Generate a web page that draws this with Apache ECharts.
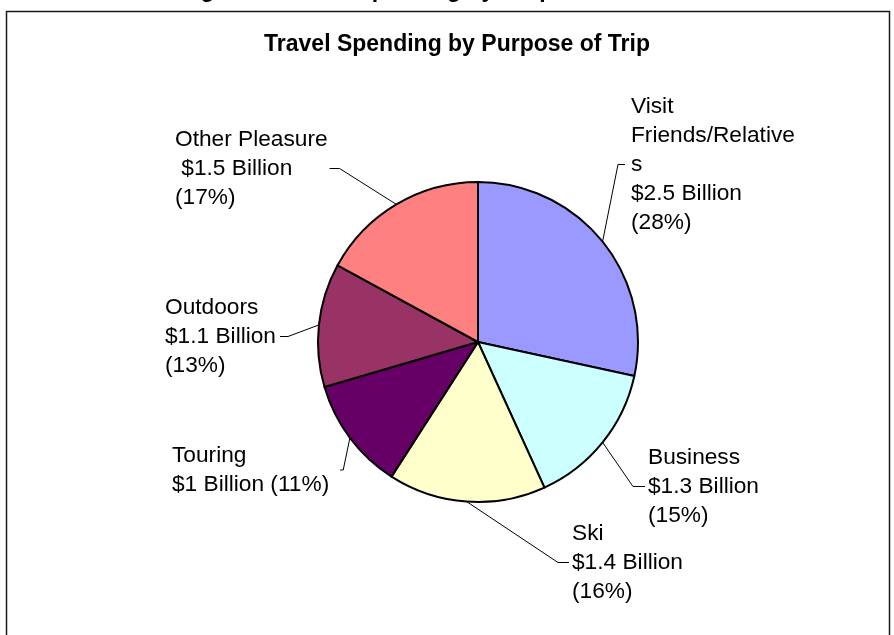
<!DOCTYPE html>
<html>
<head>
<meta charset="utf-8">
<script src="https://cdn.jsdelivr.net/npm/echarts@6/dist/echarts.min.js"></script>
<style>
  html, body { margin: 0; padding: 0; background: #fff; }
  #chart { width: 894px; height: 635px; }
</style>
</head>
<body>
<div id="chart"></div>
<script>
// Travel spending by purpose of trip, in $ billions
const categories = ['Visit Friends/Relatives', 'Business', 'Ski', 'Touring', 'Outdoors', 'Other Pleasure'];
const spending = [2.5, 1.3, 1.4, 1.0, 1.1, 1.5];
const sliceColors = ['#9999FF', '#CCFFFF', '#FFFFCC', '#660066', '#993366', '#FF8080'];

// How each category name wraps inside its label box
const nameLines = [['Visit', 'Friends/Relative', 's'], ['Business'], ['Ski'], ['Touring'], ['Outdoors'], ['Other Pleasure']];
// How the amount and share lines are set under the name
const amountStyle = ['stack', 'stack', 'stack', 'inline', 'stack', 'indent'];

// Label box placement (top-left corner), which side the leader meets,
// gap between box and leader end, and length of the leader's flat tail
const labelBoxes = [
  { x: 631, y: 92,  side: 'left',  gap: 6,  tail: 7 },
  { x: 648, y: 443, side: 'left',  gap: 3,  tail: 12 },
  { x: 572, y: 519, side: 'left',  gap: 3,  tail: 11 },
  { x: 172, y: 441, side: 'right', gap: 11, tail: 3 },
  { x: 165, y: 293, side: 'right', gap: 4,  tail: 8 },
  { x: 175, y: 125, side: 'right', gap: 2,  tail: 10 }
];

const total = spending.reduce((a, b) => a + b, 0);
const FONT = '"Liberation Sans", Arial, Helvetica, sans-serif';

function labelText(i) {
  const v = spending[i];
  const pct = Math.round(v / total * 100 + 1e-9);
  const amount = '$' + v + ' Billion';
  const share = '(' + pct + '%)';
  const lines = nameLines[i].slice();
  if (amountStyle[i] === 'inline') lines.push(amount + ' ' + share);
  else if (amountStyle[i] === 'indent') lines.push(' ' + amount, share);
  else lines.push(amount, share);
  return lines.join('\n');
}

const chart = echarts.init(document.getElementById('chart'), null, { renderer: 'canvas' });

chart.setOption({
  backgroundColor: '#ffffff',
  animation: false,
  graphic: [
    {
      type: 'rect',
      shape: { x: 6.5, y: 11.5, width: 883, height: 640 },
      style: { fill: 'none', stroke: '#1a1a1a', lineWidth: 1.5 },
      silent: true
    },
    {
      // page caption above the chart frame, mostly cut off by the top edge
      type: 'text',
      x: 180, y: -9,
      style: {
        text: 'Figure 1: Travel Spending by Purpose',
        font: 'bold 23px ' + FONT,
        fill: '#000',
        align: 'left',
        verticalAlign: 'middle'
      },
      silent: true
    },
    {
      type: 'text',
      x: 457, y: 45,
      style: {
        text: 'Travel Spending by Purpose of Trip',
        font: 'bold 23px ' + FONT,
        fill: '#000',
        align: 'center',
        verticalAlign: 'middle'
      },
      silent: true
    }
  ],
  series: [{
    type: 'pie',
    center: [478, 342],
    radius: 160,
    startAngle: 90,
    clockwise: true,
    avoidLabelOverlap: false,
    itemStyle: { borderColor: '#000', borderWidth: 2 },
    label: {
      show: true,
      position: 'outside',
      formatter: (p) => labelText(p.dataIndex),
      fontFamily: FONT,
      fontSize: 22.7,
      lineHeight: 29,
      color: '#000',
      align: 'left'
    },
    labelLine: {
      show: true,
      length: 10,
      length2: 10,
      smooth: false,
      lineStyle: { color: '#000', width: 1 }
    },
    labelLayout: function (params) {
      const box = labelBoxes[params.dataIndex];
      const w = params.labelRect.width;
      const h = params.labelRect.height;
      const midY = box.y + h / 2;
      let endX, elbowX;
      if (box.side === 'left') {
        endX = box.x - box.gap;
        elbowX = endX - box.tail;
      } else {
        endX = box.x + w + box.gap;
        elbowX = endX + box.tail;
      }
      const start = params.labelLinePoints ? params.labelLinePoints[0] : [elbowX, midY];
      return {
        x: box.x,
        y: box.y,
        align: 'left',
        verticalAlign: 'top',
        labelLinePoints: [start, [elbowX, midY], [endX, midY]]
      };
    },
    data: categories.map((name, i) => ({
      name: name,
      value: spending[i],
      itemStyle: { color: sliceColors[i] }
    }))
  }]
});
</script>
</body>
</html>
